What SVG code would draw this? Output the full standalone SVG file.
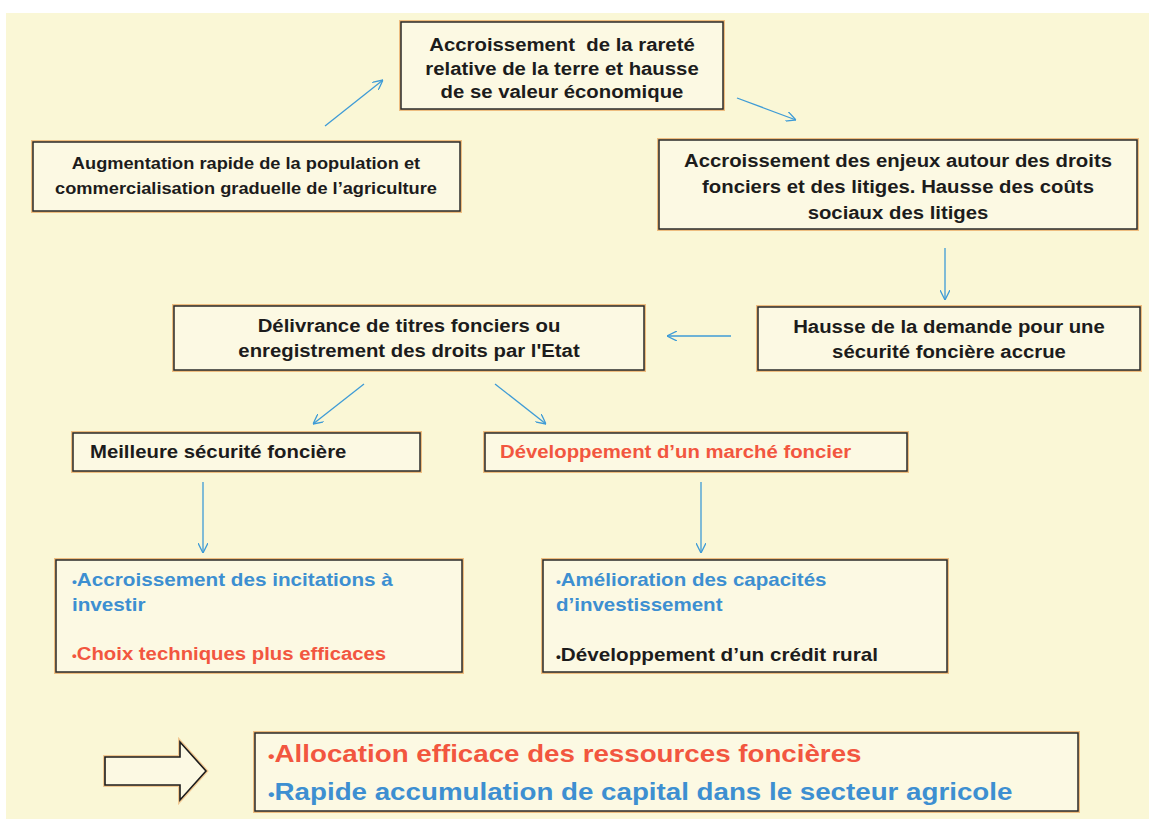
<svg xmlns="http://www.w3.org/2000/svg" width="1149" height="819" viewBox="0 0 1149 819">
<style>
.bg{fill:#faf7d6}
.glow{fill:none;stroke:#e9a962;stroke-width:4;stroke-opacity:0.75}
.box{fill:#fcf9e3;stroke:#2a2a2a;stroke-width:1.5}
.t{font-family:"Liberation Sans",Arial,sans-serif;font-weight:bold;font-size:18px;fill:#1c1c1c}
.s{font-size:16px}
.big{font-size:23.5px}
.c{text-anchor:middle}
.blue{fill:#3d8fd1}
.red{fill:#f2563f}
.b{font-size:12px}
.conn line{stroke:#3e9bd6;stroke-width:1.3;fill:none}
</style>
<defs>
<marker id="ah" viewBox="0 0 10 10" refX="10" refY="5" markerWidth="10" markerHeight="10" markerUnits="userSpaceOnUse" orient="auto">
<path d="M0,0 L10,5 L0,10" fill="none" stroke="#3e9bd6" stroke-width="1.3"/>
</marker>
</defs>
<rect x="0" y="0" width="1149" height="819" fill="#ffffff"/>
<rect class="bg" x="6" y="13" width="1143" height="806"/>

<g class="conn">
<line x1="325" y1="126" x2="383" y2="80" marker-end="url(#ah)"/>
<line x1="737" y1="98" x2="796" y2="120" marker-end="url(#ah)"/>
<line x1="945" y1="248" x2="945" y2="300" marker-end="url(#ah)"/>
<line x1="731" y1="336" x2="667" y2="336" marker-end="url(#ah)"/>
<line x1="364" y1="384" x2="313" y2="424" marker-end="url(#ah)"/>
<line x1="495" y1="384" x2="546" y2="424" marker-end="url(#ah)"/>
<line x1="203" y1="482" x2="203" y2="553" marker-end="url(#ah)"/>
<line x1="701" y1="482" x2="701" y2="553" marker-end="url(#ah)"/>
</g>

<g id="n-rarete">
<rect class="glow" x="401" y="22" width="322" height="87"/>
<rect class="box" x="401" y="22" width="322" height="87"/>
<text class="t c" style="white-space:pre" transform="translate(562 51) scale(1.13 1)">Accroissement  de la rareté</text>
<text class="t c" transform="translate(562 75) scale(1.13 1)">relative de la terre et hausse</text>
<text class="t c" transform="translate(562 98) scale(1.13 1)">de se valeur économique</text>
</g>

<g id="n-population">
<rect class="glow" x="33" y="142" width="427" height="69"/>
<rect class="box" x="33" y="142" width="427" height="69"/>
<text class="t s c" transform="translate(246 169) scale(1.14 1)">Augmentation rapide de la population et</text>
<text class="t s c" transform="translate(246 194) scale(1.14 1)">commercialisation graduelle de l’agriculture</text>
</g>

<g id="n-enjeux">
<rect class="glow" x="659" y="140" width="478" height="89"/>
<rect class="box" x="659" y="140" width="478" height="89"/>
<text class="t c" transform="translate(898 167) scale(1.13 1)">Accroissement des enjeux autour des droits</text>
<text class="t c" transform="translate(898 193) scale(1.13 1)">fonciers et des litiges. Hausse des coûts</text>
<text class="t c" transform="translate(898 219) scale(1.13 1)">sociaux des litiges</text>
</g>

<g id="n-demande">
<rect class="glow" x="758" y="307" width="382" height="63"/>
<rect class="box" x="758" y="307" width="382" height="63"/>
<text class="t c" transform="translate(949 333) scale(1.13 1)">Hausse de la demande pour une</text>
<text class="t c" transform="translate(949 358) scale(1.13 1)">sécurité foncière accrue</text>
</g>

<g id="n-titres">
<rect class="glow" x="174" y="306" width="470" height="64"/>
<rect class="box" x="174" y="306" width="470" height="64"/>
<text class="t c" transform="translate(409 332) scale(1.13 1)">Délivrance de titres fonciers ou</text>
<text class="t c" transform="translate(409 357) scale(1.13 1)">enregistrement des droits par l'Etat</text>
</g>

<g id="n-securite">
<rect class="glow" x="73" y="433" width="347" height="38"/>
<rect class="box" x="73" y="433" width="347" height="38"/>
<text class="t" transform="translate(90 458) scale(1.13 1)">Meilleure sécurité foncière</text>
</g>

<g id="n-marche">
<rect class="glow" x="485" y="433" width="422" height="38"/>
<rect class="box" x="485" y="433" width="422" height="38"/>
<text class="t red" transform="translate(500 458) scale(1.13 1)">Développement d’un marché foncier</text>
</g>

<g id="n-incitations">
<rect class="glow" x="56" y="560" width="406" height="112"/>
<rect class="box" x="56" y="560" width="406" height="112"/>
<text class="t blue" transform="translate(72 586) scale(1.15 1)"><tspan class="b">•</tspan>Accroissement des incitations à</text>
<text class="t blue" transform="translate(72 611) scale(1.15 1)">investir</text>
<text class="t red" transform="translate(72 660) scale(1.13 1)"><tspan class="b">•</tspan>Choix techniques plus efficaces</text>
</g>

<g id="n-capacites">
<rect class="glow" x="543" y="560" width="404" height="112"/>
<rect class="box" x="543" y="560" width="404" height="112"/>
<text class="t blue" transform="translate(556 586) scale(1.14 1)"><tspan class="b">•</tspan>Amélioration des capacités</text>
<text class="t blue" transform="translate(556 611) scale(1.14 1)">d’investissement</text>
<text class="t" transform="translate(556 661) scale(1.15 1)"><tspan class="b">•</tspan>Développement d’un crédit rural</text>
</g>

<g id="n-fleche">
<polygon points="105,757 180,757 180,742 206,771 180,800 180,785 105,785" fill="none" stroke="#e9a962" stroke-width="4" stroke-opacity="0.6"/>
<polygon points="105,757 180,757 180,742 206,771 180,800 180,785 105,785" fill="#fcf9e3" stroke="#1c1c1c" stroke-width="1.6"/>
</g>

<g id="n-resultat">
<rect class="glow" x="255" y="733" width="823" height="78"/>
<rect class="box" x="255" y="733" width="823" height="78"/>
<text class="t big red" transform="translate(268 762) scale(1.18 1)"><tspan font-size="16">•</tspan>Allocation efficace des ressources foncières</text>
<text class="t big blue" transform="translate(268 800) scale(1.18 1)"><tspan font-size="16">•</tspan>Rapide accumulation de capital dans le secteur agricole</text>
</g>
</svg>
